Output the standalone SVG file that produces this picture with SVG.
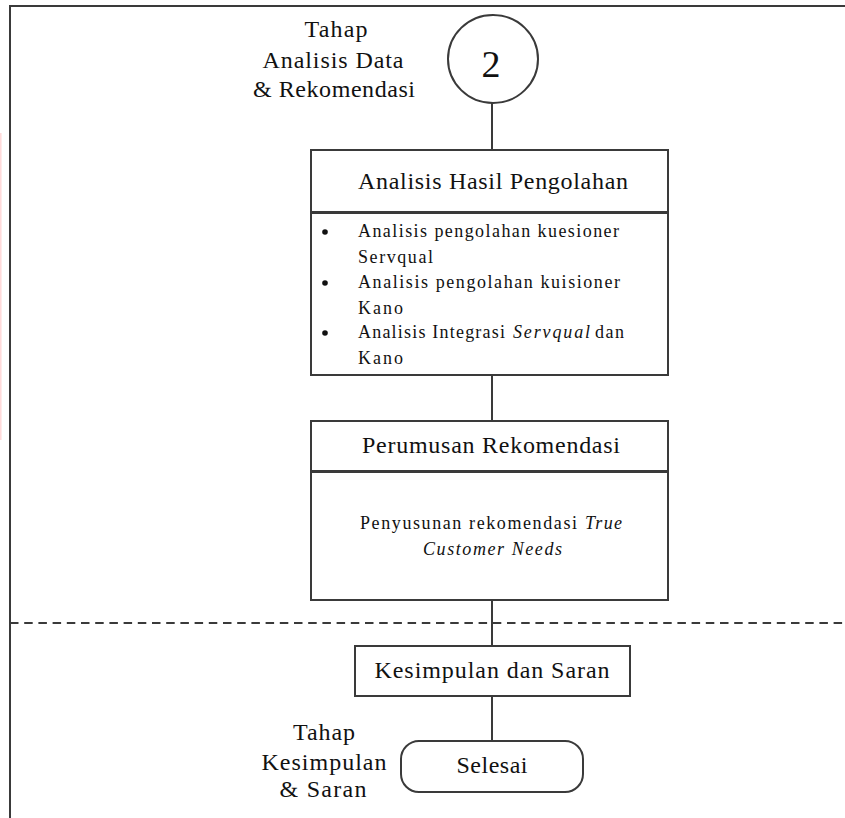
<svg xmlns="http://www.w3.org/2000/svg" width="845" height="818" viewBox="0 0 845 818">
<style>
.ln{stroke:#3a3a3a;stroke-width:2;fill:none}
.bx{stroke:#3a3a3a;stroke-width:2;fill:#fff}
.t{font-family:"Liberation Serif","Times New Roman",serif;fill:#111}
.h{font-size:24px;text-anchor:middle}
.b{font-size:18px}
.i{font-style:italic}
</style>
<rect x="0" y="0" width="845" height="818" fill="#fff"/>
<line x1="0.8" y1="133" x2="0.8" y2="440" stroke="#ffd9d9" stroke-width="1.5"/>
<g id="frame">
<line class="ln" x1="9" y1="6" x2="845" y2="6" stroke-width="2.5"/>
<line class="ln" x1="10" y1="5" x2="10" y2="818" stroke-width="2.5"/>
<line class="ln" x1="10" y1="623" x2="845" y2="623" stroke-dasharray="8.5 5.7"/>
</g>
<g id="connectors">
<line class="ln" x1="492" y1="103" x2="492" y2="150"/>
<line class="ln" x1="492" y1="375" x2="492" y2="421"/>
<line class="ln" x1="492" y1="600" x2="492" y2="646"/>
<line class="ln" x1="492" y1="696" x2="492" y2="741"/>
</g>
<g id="label-tahap-analisis">
<text class="t h" x="336" y="37" textLength="63">Tahap</text>
<text class="t h" x="333" y="68" textLength="141">Analisis Data</text>
<text class="t h" x="334" y="97" textLength="162">&amp; Rekomendasi</text>
</g>
<g id="node-2">
<ellipse class="bx" cx="493" cy="59" rx="45" ry="44"/>
<text class="t" x="491" y="77" font-size="38" text-anchor="middle">2</text>
</g>
<g id="node-analisis-hasil">
<rect class="bx" x="311" y="150" width="357" height="62"/>
<text class="t h" x="493" y="189" textLength="270">Analisis Hasil Pengolahan</text>
<rect class="bx" x="311" y="213" width="357" height="162"/>
<circle cx="325" cy="232" r="2.8" fill="#111"/>
<circle cx="325" cy="283" r="2.8" fill="#111"/>
<circle cx="325" cy="333" r="2.8" fill="#111"/>
<text class="t b" x="358" y="237" textLength="261">Analisis pengolahan kuesioner</text>
<text class="t b" x="358" y="263" textLength="75">Servqual</text>
<text class="t b" x="358" y="288" textLength="262">Analisis pengolahan  kuisioner</text>
<text class="t b" x="358" y="314" textLength="45">Kano</text>
<text class="t b" x="358" y="338" textLength="147">Analisis Integrasi</text>
<text class="t b i" x="513" y="338" textLength="77">Servqual</text>
<text class="t b" x="595" y="338" textLength="29">dan</text>
<text class="t b" x="358" y="364" textLength="45">Kano</text>
</g>
<g id="node-perumusan">
<rect class="bx" x="311" y="421" width="357" height="50"/>
<text class="t h" x="491" y="453" textLength="258">Perumusan Rekomendasi</text>
<rect class="bx" x="311" y="472" width="357" height="128"/>
<text class="t b" x="360" y="529" textLength="217">Penyusunan rekomendasi</text>
<text class="t b i" x="585" y="529" textLength="37">True</text>
<text class="t b i" x="423" y="555" textLength="139">Customer Needs</text>
</g>
<g id="node-kesimpulan">
<rect class="bx" x="355" y="646" width="275" height="50"/>
<text class="t h" x="492" y="678" textLength="235">Kesimpulan dan Saran</text>
</g>
<g id="node-selesai">
<rect class="bx" x="401" y="741" width="182" height="51" rx="18" ry="18"/>
<text class="t h" x="492" y="773" textLength="71">Selesai</text>
</g>
<g id="label-tahap-kesimpulan">
<text class="t h" x="324" y="740" textLength="62">Tahap</text>
<text class="t h" x="324" y="770" textLength="125">Kesimpulan</text>
<text class="t h" x="323" y="797" textLength="87">&amp; Saran</text>
</g>
</svg>
